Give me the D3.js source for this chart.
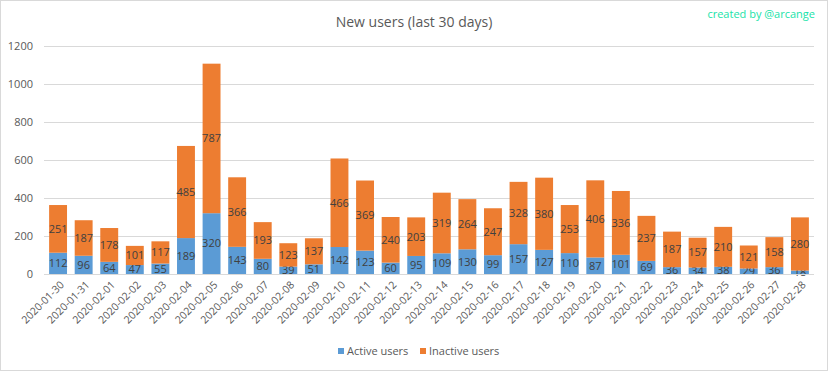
<!DOCTYPE html>
<html>
<head>
<meta charset="utf-8">
<script src="https://cdn.jsdelivr.net/npm/d3@7"></script>
<style>
  body { margin: 0; background: #fff; }
  svg { font-family: "Open Sans", "Liberation Sans", sans-serif; }
</style>
</head>
<body>
<div id="chart"></div>
<script>
const days = ['2020-01-30', '2020-01-31', '2020-02-01', '2020-02-02', '2020-02-03', '2020-02-04',
    '2020-02-05', '2020-02-06', '2020-02-07', '2020-02-08', '2020-02-09', '2020-02-10',
    '2020-02-11', '2020-02-12', '2020-02-13', '2020-02-14', '2020-02-15', '2020-02-16',
    '2020-02-17', '2020-02-18', '2020-02-19', '2020-02-20', '2020-02-21', '2020-02-22',
    '2020-02-23', '2020-02-24', '2020-02-25', '2020-02-26', '2020-02-27', '2020-02-28'];
const activeUsers = [112, 96, 64, 47, 55, 189, 320, 143, 80, 39, 51, 142, 123, 60, 95,
    109, 130, 99, 157, 127, 110, 87, 101, 69, 36, 34, 38, 29, 36, 18];
const inactiveUsers = [251, 187, 178, 101, 117, 485, 787, 366, 193, 123, 137, 466, 369, 240, 203,
    319, 264, 247, 328, 380, 253, 406, 336, 237, 187, 157, 210, 121, 158, 280];
const seriesNames = ['Active users', 'Inactive users'];
const yTicks = [0, 200, 400, 600, 800, 1000, 1200];

const width = 829, height = 372;
const margin = {top: 46, right: 15, bottom: 98, left: 44};

const svg = d3.select('#chart')
    .append('svg')
    .attr('width', width)
    .attr('height', height);

// chart border
svg.append('rect')
    .attr('x', 0.5).attr('y', 0.5)
    .attr('width', width - 2).attr('height', height - 2)
    .attr('fill', 'white')
    .attr('stroke', '#d9d9d9');

const rows = days.map((d, i) => ({day: d, active: activeUsers[i], inactive: inactiveUsers[i]}));
const stack = d3.stack().keys(['active', 'inactive']);
const layers = stack(rows);

const x = d3.scaleBand()
    .domain(days)
    .range([margin.left, width - margin.right])
    .paddingInner(0.3)
    .paddingOuter(0.2);

const y = d3.scaleLinear()
    .domain([0, 1200])
    .range([height - margin.bottom, margin.top]);

const color = d3.scaleOrdinal(['active', 'inactive'], ['#5b9bd5', '#ed7d31']);

// gridlines
svg.append('g')
    .selectAll('line')
    .data(yTicks)
    .enter()
    .append('line')
    .attr('x1', margin.left)
    .attr('x2', width - margin.right)
    .attr('y1', d => Math.round(y(d)) + 0.5)
    .attr('y2', d => Math.round(y(d)) + 0.5)
    .attr('stroke', '#d9d9d9');

// y axis labels
svg.append('g')
    .selectAll('text')
    .data(yTicks)
    .enter()
    .append('text')
    .attr('x', margin.left - 11)
    .attr('y', d => y(d))
    .attr('dy', '0.35em')
    .attr('text-anchor', 'end')
    .attr('fill', '#595959')
    .style('font-size', '11px')
    .text(d => d);

// bars
const groups = svg.append('g')
    .selectAll('g')
    .data(layers)
    .enter()
    .append('g')
    .attr('fill', d => color(d.key));

groups.selectAll('rect')
    .data(d => d)
    .enter()
    .append('rect')
    .attr('x', d => x(d.data.day))
    .attr('y', d => y(d[1]))
    .attr('width', x.bandwidth())
    .attr('height', d => y(d[0]) - y(d[1]));

// data labels
groups.selectAll('text')
    .data(d => d)
    .enter()
    .append('text')
    .attr('x', d => x(d.data.day) + x.bandwidth() / 2)
    .attr('y', d => (y(d[0]) + y(d[1])) / 2)
    .attr('dy', '0.35em')
    .attr('text-anchor', 'middle')
    .attr('fill', '#404040')
    .style('font-size', '11px')
    .text(d => d[1] - d[0]);

// x axis line
svg.append('line')
    .attr('x1', margin.left)
    .attr('x2', width - margin.right)
    .attr('y1', Math.round(y(0)) + 0.5)
    .attr('y2', Math.round(y(0)) + 0.5)
    .attr('stroke', '#d9d9d9');

// x labels, rotated
svg.append('g')
    .selectAll('text')
    .data(days)
    .enter()
    .append('text')
    .attr('transform', d => `translate(${ x(d) + x.bandwidth() / 2 + 4 }, ${ y(0) + 9 }) rotate(-45)`)
    .attr('text-anchor', 'end')
    .attr('dy', '0.35em')
    .attr('fill', '#595959')
    .style('font-size', '10.5px')
    .text(d => d);

// title
svg.append('text')
    .attr('x', 414)
    .attr('y', 27)
    .attr('text-anchor', 'middle')
    .attr('fill', '#595959')
    .style('font-size', '14px')
    .text('New users (last 30 days)');

svg.append('text')
    .attr('x', 815)
    .attr('y', 18)
    .attr('text-anchor', 'end')
    .attr('fill', '#17e3a8')
    .style('font-size', '11px')
    .text('created by @arcange');

// legend
const legend = svg.append('g')
    .selectAll('g')
    .data(seriesNames)
    .enter()
    .append('g')
    .attr('transform', (d, i) => `translate(${ i === 0 ? 338 : 420 }, 352)`);

legend.append('rect')
    .attr('x', 0).attr('y', -4)
    .attr('width', 6).attr('height', 6)
    .attr('fill', (d, i) => color.range()[i]);

legend.append('text')
    .attr('x', 9)
    .attr('dy', '0.3em')
    .attr('fill', '#595959')
    .style('font-size', '11px')
    .text(d => d);
</script>
</body>
</html>
